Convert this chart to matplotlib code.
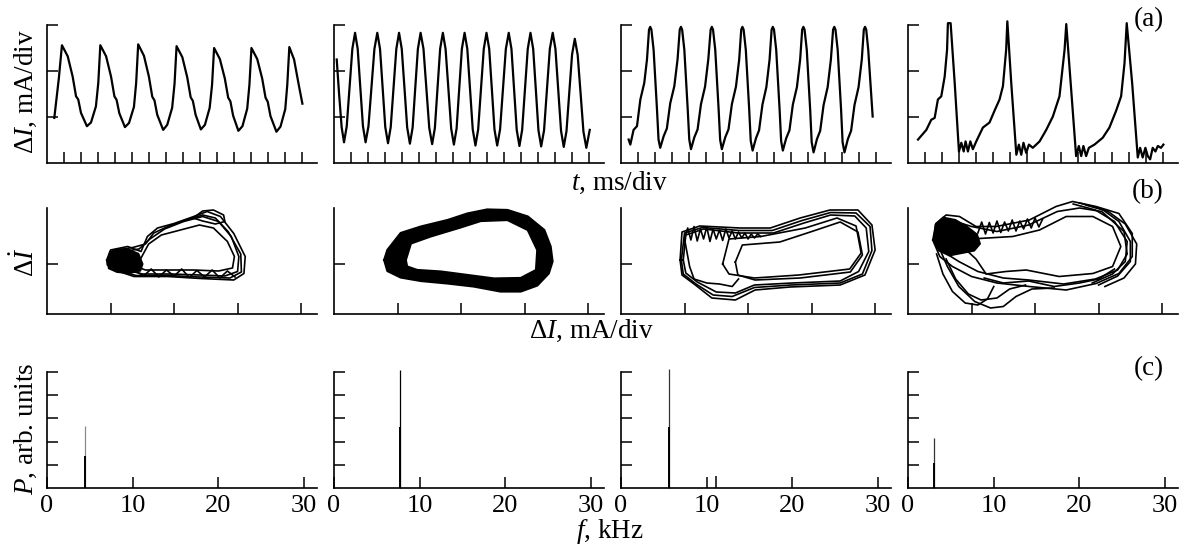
import matplotlib
matplotlib.use('Agg')
import matplotlib.pyplot as plt

plt.rcParams['font.family'] = ['Liberation Serif', 'DejaVu Serif']
plt.rcParams['mathtext.fontset'] = 'custom'
plt.rcParams['mathtext.rm'] = 'Liberation Serif'
plt.rcParams['mathtext.it'] = 'Liberation Serif:italic'

# ---------------- data: row (a) time traces (t in div, dI in div) ----------------
a1_t = [0.43, 0.70, 0.88, 1.22, 1.51, 1.71, 1.84, 2.00, 2.35, 2.59, 2.88, 3.02, 3.14, 3.48, 3.77, 3.97, 4.10, 4.26,
        4.59, 4.83, 5.12, 5.25, 5.37, 5.71, 6.00, 6.20, 6.33, 6.49, 6.84, 7.08, 7.37, 7.51, 7.63, 7.97, 8.26, 8.46,
        8.59, 8.75, 9.06, 9.30, 9.58, 9.72, 9.84, 10.18, 10.47, 10.67, 10.80, 10.96, 11.27, 11.51, 11.79, 11.92,
        12.04, 12.38, 12.67, 12.87, 13.00, 13.16, 13.51, 13.75, 14.03, 14.15, 14.27, 14.55, 14.84, 15.04]
a1_i = [0.98, 1.85, 2.56, 2.32, 1.88, 1.45, 1.38, 1.09, 0.80, 0.88, 1.23, 1.74, 2.56, 2.32, 1.88, 1.45, 1.37, 1.08,
        0.78, 0.87, 1.22, 1.74, 2.58, 2.33, 1.88, 1.44, 1.36, 1.05, 0.72, 0.83, 1.20, 1.72, 2.54, 2.30, 1.86, 1.43,
        1.35, 1.05, 0.73, 0.83, 1.20, 1.70, 2.50, 2.26, 1.84, 1.42, 1.34, 1.03, 0.70, 0.80, 1.18, 1.70,
        2.50, 2.26, 1.84, 1.42, 1.33, 1.02, 0.68, 0.79, 1.17, 1.70, 2.52, 2.25, 1.67, 1.29]

a2_t = [0.16, 0.30, 0.45, 0.59, 0.75, 0.915, 1.08, 1.24, 1.395, 1.55, 1.705, 1.86, 2.03, 2.205, 2.38, 2.55, 2.71,
        2.865, 3.02, 3.18, 3.34, 3.505, 3.67, 3.83, 3.99, 4.15, 4.31, 4.47, 4.63, 4.785, 4.94, 5.10, 5.27, 5.44,
        5.61, 5.78, 5.94, 6.095, 6.25, 6.41, 6.57, 6.735, 6.90, 7.06, 7.22, 7.375, 7.53, 7.69, 7.85, 8.01, 8.17,
        8.33, 8.49, 8.655, 8.82, 8.98, 9.14, 9.295, 9.45, 9.61, 9.78, 9.95, 10.12, 10.29, 10.45, 10.605, 10.76,
        10.92, 11.08, 11.245, 11.41, 11.57, 11.73, 11.885, 12.04, 12.2, 12.37, 12.54, 12.71, 12.88, 13.04, 13.205,
        13.37, 13.53, 13.69, 13.855, 14.02, 14.18, 14.35, 14.52, 14.69, 14.86, 15.06]
a2_i = [2.25, 1.50, 0.78, 0.45, 0.80, 1.64, 2.48, 2.83, 2.48, 1.64, 0.80, 0.45, 0.80, 1.64, 2.48, 2.83, 2.48,
        1.63, 0.78, 0.43, 0.78, 1.63, 2.48, 2.83, 2.48, 1.63, 0.77, 0.42, 0.77, 1.63, 2.48, 2.83, 2.48, 1.62,
        0.76, 0.41, 0.76, 1.62, 2.48, 2.83, 2.48, 1.62, 0.75, 0.40, 0.75, 1.62, 2.48, 2.83, 2.48, 1.61, 0.73,
        0.38, 0.73, 1.61, 2.48, 2.83, 2.48, 1.61, 0.73, 0.38, 0.73, 1.61, 2.48, 2.83, 2.48, 1.60, 0.72,
        0.37, 0.72, 1.60, 2.48, 2.83, 2.48, 1.60, 0.71, 0.36, 0.71, 1.60, 2.48, 2.83, 2.48, 1.59,
        0.70, 0.35, 0.69, 1.53, 2.36, 2.70, 2.35, 1.52, 0.68, 0.33, 0.72]

a3_t = [0.45, 0.55, 0.74, 0.94, 1.14, 1.37, 1.53, 1.65, 1.72, 1.79, 1.92, 2.12, 2.21, 2.31,
        2.51, 2.70, 2.90, 3.14, 3.33, 3.46, 3.53, 3.60, 3.73, 3.93, 4.02, 4.12,
        4.32, 4.51, 4.71, 4.95, 5.14, 5.28, 5.35, 5.42, 5.55, 5.75, 5.84, 5.94,
        6.14, 6.33, 6.53, 6.77, 6.96, 7.08, 7.15, 7.22, 7.35, 7.55, 7.64, 7.75,
        7.95, 8.13, 8.33, 8.56, 8.75, 8.87, 8.94, 9.01, 9.14, 9.34, 9.43, 9.53,
        9.73, 9.92, 10.12, 10.36, 10.55, 10.67, 10.74, 10.81, 10.94, 11.14, 11.23, 11.34,
        11.54, 11.73, 11.93, 12.17, 12.36, 12.49, 12.56, 12.63, 12.76, 12.96, 13.05, 13.16,
        13.36, 13.55, 13.75, 13.99, 14.18, 14.30, 14.37, 14.44, 14.56, 14.82]
a3_i = [0.51, 0.40, 0.72, 0.80, 1.38, 1.74, 2.25, 2.90, 2.96, 2.90, 2.46, 1.16, 0.51, 0.33,
        0.58, 0.75, 1.30, 1.67, 2.25, 2.90, 2.96, 2.90, 2.46, 1.16, 0.51, 0.30,
        0.56, 0.73, 1.28, 1.66, 2.25, 2.90, 2.96, 2.90, 2.46, 1.16, 0.50, 0.30,
        0.56, 0.73, 1.28, 1.66, 2.25, 2.90, 2.96, 2.90, 2.46, 1.16, 0.48, 0.27,
        0.54, 0.71, 1.27, 1.65, 2.25, 2.90, 2.96, 2.90, 2.46, 1.16, 0.48, 0.27,
        0.54, 0.71, 1.27, 1.65, 2.25, 2.90, 2.96, 2.90, 2.46, 1.16, 0.45, 0.23,
        0.52, 0.70, 1.26, 1.65, 2.25, 2.90, 2.96, 2.90, 2.46, 1.16, 0.45, 0.23,
        0.52, 0.70, 1.26, 1.65, 2.25, 2.90, 2.96, 2.90, 2.46, 1.01]

a4_t = [0.59, 1.08, 1.37, 1.57, 1.76, 1.96, 2.16, 2.30, 2.35, 2.51, 2.75, 3.00, 3.14, 3.28, 3.39, 3.53, 3.67,
        3.82, 4.02, 4.41, 4.80, 5.10, 5.39, 5.59, 5.78, 5.85, 6.08, 6.38, 6.53, 6.67, 6.80, 6.96, 7.12, 7.35,
        7.75, 8.14, 8.53, 8.92, 9.22, 9.32, 9.61, 9.90, 10.06, 10.20, 10.33, 10.49, 10.65, 10.98, 11.47, 11.86,
        12.26, 12.55, 12.75, 12.88, 13.20, 13.53, 13.67, 13.82, 13.98, 14.12, 14.26, 14.41, 14.57, 14.71, 14.90,
        15.04]
a4_i = [0.51, 0.72, 0.94, 0.98, 1.38, 1.45, 1.88, 2.46, 3.04, 3.04, 1.74, 0.25, 0.44, 0.25, 0.47, 0.25, 0.47,
        0.30, 0.47, 0.77, 0.88, 1.14, 1.38, 1.67, 2.46, 3.08, 1.74, 0.18, 0.40, 0.18, 0.44, 0.22, 0.40, 0.33,
        0.47, 0.72, 1.01, 1.45, 2.46, 3.02, 1.59, 0.15, 0.37, 0.15, 0.37, 0.15, 0.33, 0.40, 0.55, 0.77,
        1.14, 1.45, 2.17, 3.04, 1.74, 0.12, 0.33, 0.12, 0.33, 0.15, 0.08, 0.33, 0.25, 0.37, 0.33,
        0.40]

# ---------------- data: row (b) phase portraits, traced loop outlines ----------------
# dense (filled) regions: (x, y, fill colour)
b1_fills = [
    ([0.94, 0.98, 1.10, 1.30, 1.45, 1.52, 1.48, 1.30, 1.10, 0.96, 0.94],
     [1.05, 1.25, 1.32, 1.30, 1.22, 1.00, 0.85, 0.80, 0.82, 0.90, 1.05], 'black'),
]
b1_loops = [
    ([0.94, 1.00, 1.27, 1.48, 1.58, 1.74, 2.00, 2.31, 2.52, 2.73, 2.94, 3.12, 3.10, 2.94, 2.42, 1.90, 1.37, 1.06, 0.95, 0.94],
     [1.08, 1.28, 1.35, 1.25, 1.55, 1.72, 1.81, 1.95, 2.05, 1.95, 1.61, 1.15, 0.81, 0.68, 0.71, 0.75, 0.75, 0.88, 0.98, 1.08]),
    ([1.45, 1.60, 1.80, 2.10, 2.40, 2.62, 2.84, 2.95, 2.92, 2.70, 2.30, 1.90, 1.55, 1.40, 1.45],
     [1.05, 1.40, 1.58, 1.68, 1.78, 1.72, 1.45, 1.15, 0.92, 0.86, 0.88, 0.88, 0.88, 0.95, 1.05]),
    ([1.10, 1.20, 1.45, 1.62, 1.85, 2.15, 2.45, 2.70, 2.90, 3.02, 3.00, 2.80, 2.40, 1.95, 1.50, 1.20, 1.10],
     [1.05, 1.25, 1.30, 1.50, 1.70, 1.85, 1.95, 1.85, 1.55, 1.15, 0.85, 0.76, 0.78, 0.80, 0.80, 0.90, 1.05]),
    ([0.97, 1.05, 1.35, 1.55, 1.68, 1.92, 2.20, 2.45, 2.65, 2.85, 3.05, 3.06, 2.88, 2.40, 1.90, 1.40, 1.10, 0.97],
     [1.08, 1.27, 1.33, 1.40, 1.62, 1.76, 1.88, 1.98, 1.92, 1.65, 1.20, 0.84, 0.72, 0.74, 0.77, 0.77, 0.88, 1.08]),
    ([2.30, 2.45, 2.62, 2.78, 2.80, 2.65, 2.45, 2.30],
     [1.92, 2.06, 2.08, 1.98, 1.85, 1.80, 1.86, 1.92]),
    ([1.40, 1.52, 1.64, 1.76, 1.88, 2.00, 2.12, 2.24, 2.36, 2.48, 2.60, 2.72, 2.84, 2.96],
     [0.86, 0.76, 0.90, 0.74, 0.88, 0.76, 0.90, 0.73, 0.87, 0.74, 0.88, 0.72, 0.86, 0.74]),
]
b2_fills = [
    ([0.79, 0.84, 1.05, 1.37, 1.79, 2.10, 2.41, 2.73, 3.05, 3.31, 3.41, 3.44, 3.38, 3.20, 2.94, 2.62, 2.20, 1.79, 1.37, 1.05, 0.84, 0.79],
     [1.08, 1.28, 1.62, 1.75, 1.88, 2.01, 2.09, 2.08, 1.95, 1.68, 1.35, 1.05, 0.81, 0.57, 0.45, 0.45, 0.55, 0.61, 0.66, 0.73, 0.86, 1.08], 'black'),
    ([1.13, 1.21, 1.52, 1.99, 2.31, 2.73, 3.05, 3.20, 3.18, 2.94, 2.52, 2.10, 1.68, 1.31, 1.15, 1.13],
     [1.08, 1.41, 1.55, 1.73, 1.86, 1.88, 1.68, 1.28, 0.88, 0.72, 0.71, 0.78, 0.85, 0.88, 0.95, 1.08], 'white'),
]
b2_loops = [
    ([0.79, 0.84, 1.05, 1.37, 1.79, 2.10, 2.41, 2.73, 3.05, 3.31, 3.41, 3.44, 3.38, 3.20, 2.94, 2.62, 2.20, 1.79, 1.37, 1.05, 0.84, 0.79],
     [1.08, 1.28, 1.62, 1.75, 1.88, 2.01, 2.09, 2.08, 1.95, 1.68, 1.35, 1.05, 0.81, 0.57, 0.45, 0.45, 0.55, 0.61, 0.66, 0.73, 0.86, 1.08]),
    ([1.13, 1.21, 1.52, 1.99, 2.31, 2.73, 3.05, 3.20, 3.18, 2.94, 2.52, 2.10, 1.68, 1.31, 1.15, 1.13],
     [1.08, 1.41, 1.55, 1.73, 1.86, 1.88, 1.68, 1.28, 0.88, 0.72, 0.71, 0.78, 0.85, 0.88, 0.95, 1.08]),
]
b3_fills = []
b3_loops = [
    ([0.93, 0.96, 1.24, 1.87, 2.35, 2.82, 3.29, 3.73, 3.95, 4.00, 3.84, 3.45, 2.66, 2.11, 1.80, 1.43, 1.17, 0.96, 0.93],
     [1.08, 1.64, 1.76, 1.72, 1.72, 1.92, 2.08, 2.08, 1.78, 1.28, 0.78, 0.58, 0.54, 0.48, 0.28, 0.32, 0.58, 0.78, 1.08]),
    ([1.80, 1.91, 2.50, 2.98, 3.45, 3.73, 3.80, 3.61, 2.82, 2.11, 1.84, 1.80],
     [1.04, 1.38, 1.44, 1.64, 1.84, 1.64, 1.18, 0.84, 0.72, 0.68, 0.78, 1.04]),
    ([0.98, 1.02, 1.30, 1.85, 2.40, 2.88, 3.30, 3.68, 3.86, 3.90, 3.74, 3.45, 2.70, 2.10, 1.80, 1.50, 1.20, 1.02, 0.98],
     [1.08, 1.58, 1.70, 1.62, 1.62, 1.82, 1.98, 1.96, 1.72, 1.25, 0.85, 0.66, 0.62, 0.58, 0.42, 0.44, 0.64, 0.82, 1.08]),
    ([0.95, 1.00, 1.28, 1.86, 2.38, 2.85, 3.30, 3.70, 3.92, 3.95, 3.80, 3.45, 2.68, 2.10, 1.75, 1.45, 1.18, 0.98, 0.95],
     [1.08, 1.62, 1.73, 1.67, 1.67, 1.87, 2.03, 2.02, 1.75, 1.27, 0.80, 0.62, 0.58, 0.53, 0.35, 0.38, 0.60, 0.80, 1.08]),
    ([1.60, 1.70, 2.20, 2.90, 3.40, 3.70, 3.78, 3.60, 2.80, 2.10, 1.70, 1.60],
     [1.00, 1.50, 1.55, 1.72, 1.92, 1.76, 1.22, 0.90, 0.78, 0.72, 0.80, 1.00]),
    ([1.00, 1.05, 1.10, 1.15, 1.20, 1.25, 1.30, 1.35, 1.40, 1.45, 1.50, 1.55, 1.60, 1.65, 1.70, 1.75, 1.80, 1.85,
      1.90, 1.95, 2.00, 2.05, 2.10, 2.15, 2.20],
     [1.50, 1.72, 1.48, 1.75, 1.46, 1.70, 1.50, 1.74, 1.45, 1.70, 1.50, 1.68, 1.47, 1.70, 1.52, 1.66, 1.50, 1.64,
      1.52, 1.62, 1.50, 1.60, 1.52, 1.60, 1.55]),
    ([1.00, 1.08, 1.15, 1.35, 1.55, 1.75, 1.85],
     [1.50, 0.95, 0.70, 0.62, 0.60, 0.55, 0.70]),
]
b4_fills = [
    ([0.39, 0.42, 0.55, 0.75, 0.95, 1.10, 1.15, 1.05, 0.85, 0.65, 0.48, 0.39],
     [1.45, 1.80, 1.95, 1.90, 1.75, 1.60, 1.40, 1.25, 1.20, 1.15, 1.25, 1.45], 'black'),
]
b4_loops = [
    ([0.39, 0.44, 0.60, 0.81, 1.07, 1.39, 1.91, 2.33, 2.59, 2.96, 3.32, 3.53, 3.53, 3.32, 2.96, 2.49, 1.91, 1.40, 1.00, 0.70, 0.50, 0.39],
     [1.48, 1.81, 1.98, 1.95, 1.75, 1.75, 1.88, 2.15, 2.25, 2.15, 2.01, 1.61, 1.15, 0.81, 0.61, 0.48, 0.55, 0.62, 0.75, 0.95, 1.15, 1.48]),
    ([0.76, 1.12, 1.65, 2.07, 2.49, 2.91, 3.22, 3.35, 3.22, 2.91, 2.38, 1.86, 1.54, 1.23, 1.07, 0.90, 0.76],
     [1.41, 1.51, 1.55, 1.68, 1.95, 1.95, 1.75, 1.35, 0.95, 0.81, 0.75, 0.88, 0.85, 0.80, 1.10, 1.30, 1.41]),
    ([0.45, 0.55, 0.75, 1.00, 1.40, 1.90, 2.35, 2.70, 3.05, 3.40, 3.45, 3.30, 2.95, 2.45, 1.90, 1.50, 1.10, 0.80, 0.55, 0.45],
     [1.45, 1.75, 1.85, 1.75, 1.65, 1.78, 2.05, 2.12, 2.05, 1.65, 1.20, 0.88, 0.70, 0.60, 0.68, 0.72, 0.85, 1.05, 1.25, 1.45]),
    ([0.50, 0.62, 0.80, 1.05, 1.30, 1.50, 1.70, 1.95, 2.30],
     [1.30, 0.95, 0.55, 0.25, 0.12, 0.15, 0.35, 0.50, 0.52]),
    ([0.60, 0.75, 0.95, 1.15, 1.40, 1.60, 1.85],
     [1.10, 0.70, 0.40, 0.28, 0.32, 0.50, 0.58]),
    ([0.45, 0.55, 0.70, 0.90, 1.10, 1.25, 1.35],
     [1.20, 0.80, 0.45, 0.22, 0.18, 0.30, 0.55]),
    ([2.80, 3.15, 3.42, 3.60, 3.58, 3.40, 3.10],
     [2.18, 2.05, 1.80, 1.40, 1.00, 0.72, 0.55]),
    ([2.70, 3.05, 3.32, 3.50, 3.50, 3.30, 3.00],
     [2.22, 2.10, 1.85, 1.45, 1.05, 0.76, 0.58]),
    ([2.60, 2.95, 3.25, 3.45, 3.42, 3.22, 2.90],
     [2.20, 2.08, 1.85, 1.45, 1.05, 0.80, 0.62]),
    ([1.20, 1.50, 1.90, 2.30, 2.70, 3.00, 3.25],
     [0.72, 0.62, 0.66, 0.55, 0.62, 0.70, 0.90]),
    ([1.10, 1.16, 1.22, 1.28, 1.34, 1.40, 1.46, 1.52, 1.58, 1.64, 1.70, 1.76, 1.82, 1.88, 1.94, 2.00, 2.06, 2.12],
     [1.62, 1.84, 1.60, 1.83, 1.62, 1.86, 1.63, 1.84, 1.66, 1.88, 1.66, 1.86, 1.70, 1.90, 1.72, 1.92, 1.74, 1.90]),
]

# ---------------- data: row (c) spectra ----------------
spec_freq = [4.4, 7.75, 5.6, 3.0]          # kHz
spec_peak = [2.68, 5.10, 5.15, 2.16]       # full line height
spec_core = [1.38, 2.64, 2.64, 1.08]       # heavier lower part
spec_peak_color = ['#8a8a8a', 'black', '#333333', '#333333']
spec3_extra_f = [11.1]
spec3_extra_p = [0.52]

row_a_ticks_x = list(range(1, 16))
row_a_ticks_y = [1, 2, 3]
row_b_ticks_x = [1, 2, 3, 4]
row_b_ticks_y = [1]
row_c_ticks_x = [0, 10, 20, 30]
row_c_ticks_y = [1, 2, 3, 4, 5]

# ---------------- figure ----------------
W, H = 1182, 546
fig = plt.figure(figsize=(W / 100, H / 100), dpi=100)
lefts = [47, 334, 621, 908]
PW = 270


def make_ax(left, top, bottom):
    ax = fig.add_axes([left / W, 1 - bottom / H, PW / W, (bottom - top) / H])
    for s in ('top', 'right'):
        ax.spines[s].set_visible(False)
    for s in ('left', 'bottom'):
        ax.spines[s].set_linewidth(1.2)
    ax.tick_params(direction='in', length=8, width=1.1, labelbottom=False, labelleft=False)
    ax.set_facecolor('none')
    return ax


traces = [(a1_t, a1_i), (a2_t, a2_i), (a3_t, a3_i), (a4_t, a4_i)]
for k, left in enumerate(lefts):
    ax = make_ax(left, 25, 163)
    ax.set_xlim(0, 15.9)
    ax.set_ylim(0, 3)
    ax.set_xticks(row_a_ticks_x)
    ax.set_yticks(row_a_ticks_y)
    t, i = traces[k]
    ax.plot(t, i, color='black', lw=1.6, clip_on=False, solid_joinstyle='round')

loops_all = [b1_loops, b2_loops, b3_loops, b4_loops]
fills_all = [b1_fills, b2_fills, b3_fills, b4_fills]
lws = [1.2, 1.6, 1.2, 1.2]
for k, left in enumerate(lefts):
    ax = make_ax(left, 208, 314)
    ax.set_xlim(0, 4.25)
    ax.set_ylim(0, 2.12)
    ax.set_xticks(row_b_ticks_x)
    ax.set_yticks(row_b_ticks_y)
    for fx, fy, fc in fills_all[k]:
        ax.fill(fx, fy, color=fc, lw=0, clip_on=False)
    for lx, ly in loops_all[k]:
        ax.plot(lx, ly, color='black', lw=lws[k], clip_on=False, solid_joinstyle='round')

for k, left in enumerate(lefts):
    ax = make_ax(left, 372, 488)
    ax.set_xlim(0, 31.5)
    ax.set_ylim(0, 5)
    ax.set_xticks(row_c_ticks_x)
    ax.set_yticks(row_c_ticks_y)
    ax.tick_params(labelbottom=True, labelsize=19, pad=5)
    ax.vlines(spec_freq[k], 0, spec_peak[k], color=spec_peak_color[k], lw=0.9, clip_on=False)
    ax.vlines(spec_freq[k], 0, spec_core[k], color='black', lw=1.4)
    if k == 2:
        ax.vlines(spec3_extra_f, 0, spec3_extra_p, color='black', lw=1.1)

FS = 19.5


def ftext(x, y, s, **kw):
    fig.text(x / W, 1 - y / H, s, ha='center', va='center', fontsize=FS, **kw)


ftext(26, 92, r'$\Delta I$, mA/div', rotation=90)
ftext(26, 262, r'$\Delta\dot{I}$', rotation=90)
ftext(26, 429, r'$P$, arb. units', rotation=90)
ftext(619, 183, r'$t$, ms/div')
ftext(591, 331, r'$\Delta I$, mA/div')
ftext(610, 531, r'$f$, kHz')
ftext(1149, 20, '(a)')
ftext(1148, 192, '(b)')
ftext(1149, 369, '(c)')

fig.savefig('out.png', dpi=100)
